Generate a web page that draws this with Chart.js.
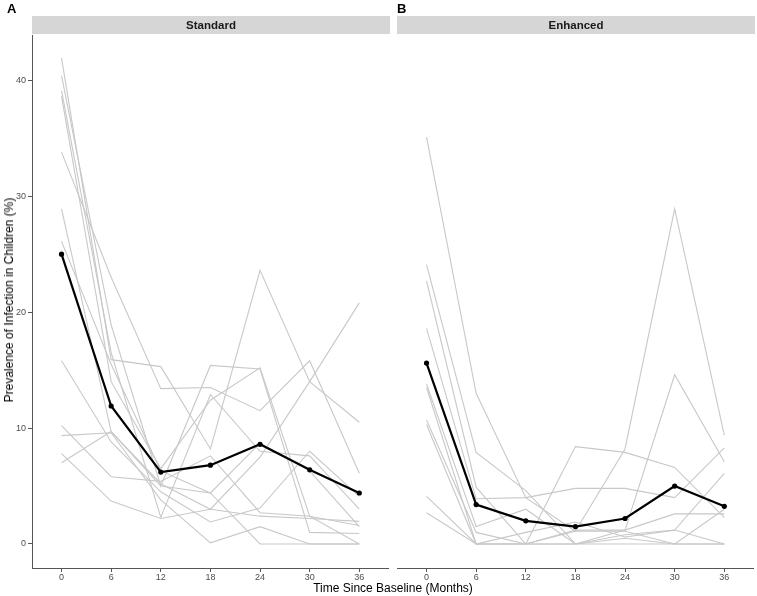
<!DOCTYPE html>
<html>
<head>
<meta charset="utf-8">
<script src="https://cdn.jsdelivr.net/npm/chart.js@4.4.1/dist/chart.umd.min.js"></script>
<style>
  body { margin: 0; background: #fff; font-family: "Liberation Sans", Arial, sans-serif; }
  #wrap { position: relative; width: 757px; height: 596px; overflow: hidden; }
  canvas { position: absolute; top: 0; }
  .tag { position: absolute; top: 2px; font-weight: bold; font-size: 13px; line-height: 13px; color: #000; }
  .strip { position: absolute; top: 16px; height: 18px; background: #d6d6d6; font-weight: bold;
           font-size: 11.5px; line-height: 18px; text-align: center; color: #1a1a1a; }
  .xtitle { position: absolute; left: 0; width: 786px; top: 581px; font-size: 12px; line-height: 14px; text-align: center; color: #000; }
  .ytitle { position: absolute; left: 9px; top: 300px; font-size: 12px; white-space: nowrap; color: #000;
            transform: translate(-50%, -50%) rotate(-90deg); }
</style>
</head>
<body>
<div id="wrap">
  <canvas id="chartA" width="392" height="596" style="left:0"></canvas>
  <canvas id="chartB" width="365" height="596" style="left:392px"></canvas>
  <div class="tag" style="left:7px">A</div>
  <div class="tag" style="left:397px">B</div>
  <div class="strip" style="left:32px;width:358px">Standard</div>
  <div class="strip" style="left:397px;width:358px">Enhanced</div>
  <div class="xtitle">Time Since Baseline (Months)</div>
  <div class="ytitle">Prevalence of Infection in Children (%)</div>
</div>
<script>
// months since baseline and axis ticks
const months = [0, 6, 12, 18, 24, 30, 36];
const yTicks = [0, 10, 20, 30, 40];

// Standard arm: one array per site, plus the mean
const stdSites = [
  [41.9, 15.9, 15.3, 8.2, 23.6, 14.0, 10.5],
  [40.4, 18.9, 5.0, 15.4, 15.1, 1.0, 0.9],
  [39.1, 16.5, 2.3, 12.9, 8.0, 7.6, 3.0],
  [38.6, 14.0, 6.5, 12.4, 15.2, 2.4, 0.0],
  [33.8, 23.0, 13.4, 13.5, 11.5, 15.8, 6.1],
  [28.9, 9.7, 5.2, 3.0, 7.5, 14.0, 20.8],
  [26.1, 15.5, 6.3, 4.4, 8.7, 6.3, 1.5],
  [15.8, 8.8, 4.5, 1.9, 3.1, 8.0, 4.1],
  [10.2, 5.8, 5.4, 7.6, 2.7, 2.4, 1.6],
  [9.35, 9.6, 3.8, 0.1, 1.5, 0.0, 0.0],
  [7.8, 3.7, 2.2, 3.0, 2.4, 2.2, 1.95],
  [7.0, 9.7, 5.0, 4.4, 0.0, 0.0, 0.0]
];
const stdMean = [25.0, 11.9, 6.2, 6.8, 8.6, 6.4, 4.4];

// Enhanced arm
const enhSites = [
  [35.1, 13.0, 4.0, 1.1, 8.2, 28.9, 9.4],
  [24.1, 7.9, 4.6, 0.0, 1.2, 14.6, 7.1],
  [22.7, 4.9, 0.0, 8.4, 7.9, 6.6, 2.3],
  [18.6, 3.9, 4.0, 4.8, 4.8, 4.0, 8.3],
  [13.8, 1.5, 3.0, 0.0, 0.8, 1.2, 6.1],
  [13.5, 0.0, 0.0, 1.2, 1.2, 2.6, 2.6],
  [10.7, 1.0, 0.0, 1.1, 1.1, 0.0, 0.0],
  [10.3, 0.0, 1.0, 1.9, 0.6, 1.2, 0.0],
  [4.1, 0.0, 0.0, 0.0, 0.0, 0.0, 3.0],
  [2.7, 0.0, 0.0, 0.0, 0.5, 0.0, 0.0]
];
const enhMean = [15.6, 3.4, 2.0, 1.5, 2.2, 5.0, 3.25];

const axisColor = '#555555';
const tickColor = '#4d4d4d';
const font = { family: '"Liberation Sans", Arial, sans-serif', size: 9 };

function toPoints(vals) {
  return vals.map((v, i) => ({ x: months[i], y: v }));
}

function makeDatasets(sites, mean) {
  const sets = sites.map(s => ({
    data: toPoints(s),
    borderColor: '#c8c8c8',
    borderWidth: 1.1,
    pointRadius: 0,
    order: 1
  }));
  sets.push({
    data: toPoints(mean),
    borderColor: '#000',
    backgroundColor: '#000',
    borderWidth: 2.2,
    pointRadius: 2.6,
    pointBorderWidth: 0,
    order: 0
  });
  return sets;
}

function makeConfig(sites, mean, showY, padLeft) {
  return {
    type: 'line',
    data: { datasets: makeDatasets(sites, mean) },
    options: {
      responsive: false,
      animation: false,
      layout: { padding: { top: 35, right: 2, bottom: 0, left: padLeft } },
      plugins: { legend: { display: false }, tooltip: { enabled: false } },
      scales: {
        x: {
          type: 'linear',
          min: -3.57,
          max: 39.47,
          afterBuildTicks: s => { s.ticks = months.map(v => ({ value: v })); },
          afterFit: s => { s.height = 28; },
          ticks: { color: tickColor, font: font, padding: 0, maxRotation: 0, autoSkip: false },
          grid: { drawOnChartArea: false, tickLength: 4, color: axisColor },
          border: { color: axisColor, width: 1 }
        },
        y: {
          display: showY,
          min: -2.07,
          max: 43.9,
          afterBuildTicks: s => { s.ticks = yTicks.map(v => ({ value: v })); },
          afterFit: s => { s.width = showY ? 32 : 0; },
          ticks: { color: tickColor, font: font, padding: 2 },
          grid: { drawOnChartArea: false, tickLength: 4, color: axisColor },
          border: { color: axisColor, width: 1 }
        }
      }
    }
  };
}

new Chart(document.getElementById('chartA'), makeConfig(stdSites, stdMean, true, 0));
new Chart(document.getElementById('chartB'), makeConfig(enhSites, enhMean, false, 5));
</script>
</body>
</html>
